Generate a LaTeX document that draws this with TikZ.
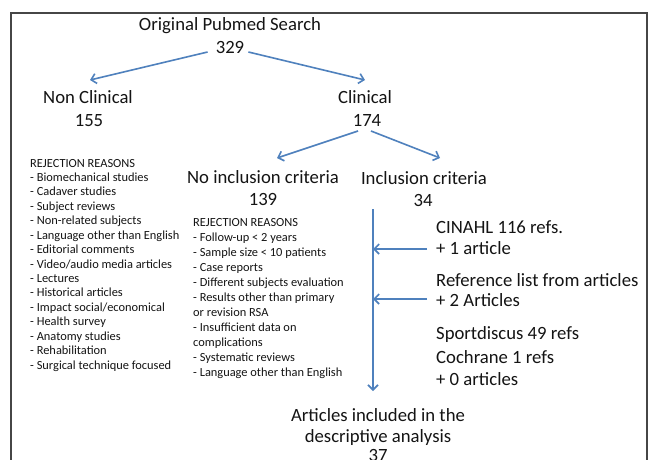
\documentclass[tikz,border=0pt]{standalone}
\usepackage{fontspec}
\setmainfont{Carlito}
\usetikzlibrary{arrows.meta,calc}
\definecolor{arrblue}{RGB}{79,129,189}
\definecolor{txt}{RGB}{20,20,20}
\definecolor{framec}{RGB}{70,70,70}
\begin{document}
\begin{tikzpicture}[x=1pt,y=-1pt,
  big/.style={font=\fontsize{18.7}{23}\selectfont, inner sep=0pt, anchor=base, text=txt},
  bigl/.style={big, anchor=base west},
  small/.style={font=\fontsize{12.4}{14.4}\selectfont, inner sep=0pt, anchor=base west, text=txt},
  arr/.style={draw=arrblue, line width=1.6pt, -{Straight Barb[length=5pt,width=10pt,line width=1.6pt]}}]
\useasboundingbox (0,0) rectangle (651,459);
\clip (0,0) rectangle (651,459);
\fill[white] (0,0) rectangle (651,459);
\draw[framec, line width=1.3pt] (11,470) -- (11,13) -- (647,13) -- (647,470);

% main texts
\node[big] (n1) at (230,30) {Original Pubmed Search};
\node[big] (n329) at (230,53) {329};
\node[big] (nnc) at (88,103) {Non Clinical};
\node[big] (n155) at (89,126) {155};
\node[big] (ncl) at (365,103) {Clinical};
\node[big] (n174) at (367,126) {174};
\node[big] (nnic) at (263,183) {No inclusion criteria};
\node[big] (n139) at (263,205) {139};
\node[big] (nic) at (424,184) {Inclusion criteria};
\node[big] (n34) at (423,206) {34};

\node[bigl] (r1) at (436,233) {CINAHL 116 refs.};
\node[bigl] (r2) at (436,254) {+ 1 article};
\node[bigl] (r3) at (436,286) {Reference list from articles};
\node[bigl] (r4) at (436,306) {+ 2 Articles};
\node[bigl] (r5) at (436,339) {Sportdiscus 49 refs};
\node[bigl] (r6) at (436,363) {Cochrane 1 refs};
\node[bigl] (r7) at (436,385) {+ 0 articles};

\node[big] (b1) at (378,421) {Articles included in the};
\node[big] (b2) at (378,442) {descriptive analysis};
\node[big] (b3) at (378,461) {37};

% rejection lists
\foreach \t [count=\i from 0] in {REJECTION REASONS, - Biomechanical studies, - Cadaver studies, - Subject reviews, - Non-related subjects, - Language other than English, - Editorial comments, - Video/audio media articles, - Lectures, - Historical articles, - Impact social/economical, - Health survey, - Anatomy studies, - Rehabilitation, - Surgical technique focused}
  \node[small] (la\i) at (30,{167+\i*14.43}) {\t};
\foreach \t [count=\i from 0] in {REJECTION REASONS, - Follow-up < 2 years, - Sample size < 10 patients, - Case reports, - Different subjects evaluation, - Results other than primary, or revision RSA, - Insufficient data on, complications, - Systematic reviews, - Language other than English}
  \node[small] (lb\i) at (193,{226+\i*15}) {\t};

% connectors
\draw[arr] ($(n329.base west)+(-8,-1)$) -- ($(nnc.base)+(2,-23)$);
\draw[arr] ($(n329.base east)+(4,-1)$) -- ($(ncl.base)+(0,-23)$);
\draw[arr] ($(n174.base)+(-9,5)$) -- ($(nnic.base)+(14,-25)$);
\draw[arr] ($(n174.base)+(4,5)$) -- ($(nic.base)+(16,-26)$);
\coordinate (vtop) at ($(n34.base)+(-50,3)$);
\coordinate (vbot) at ($(b1.base)+(-4,-30)$);
\draw[arr] (vtop) -- (vtop |- vbot);
\draw[arr] ($(r2.base west)+(-9,-5)$) coordinate (h1) -- (vtop |- h1);
\draw[arr] ($(r4.base west)+(-9,-7)$) coordinate (h2) -- (vtop |- h2);
\end{tikzpicture}
\end{document}
